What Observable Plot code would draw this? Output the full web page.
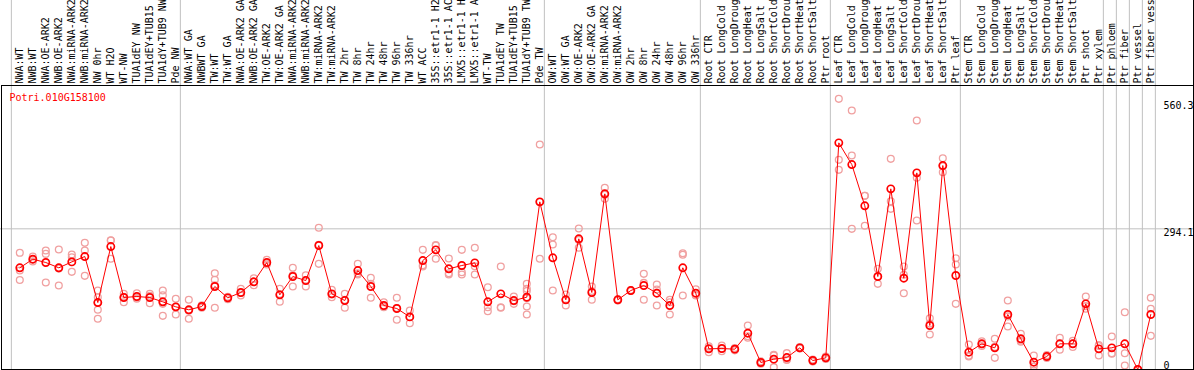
<!DOCTYPE html>
<html><head><meta charset="utf-8">
<script src="https://cdn.jsdelivr.net/npm/d3@7"></script>
<script src="https://cdn.jsdelivr.net/npm/@observablehq/plot@0.6"></script>
<style>
body{margin:0;background:#fff}
svg{display:block;box-shadow:inset -1px 0 0 #000}
</style>
</head><body><div id="chart"></div>
<script>
const geneId = "Potri.010G158100";
const categories = [
  "NWA:WT","NWB:WT","NWA:OE-ARK2","NWB:OE-ARK2","NWA:miRNA-ARK2","NWB:miRNA-ARK2","NW 0hr","WT H2O","WT-NW","TUA1dEY NW","TUA1dEY+TUB15","TUA1dY+TUB9 NW","Pde NW",
  "NWA:WT GA","NWBWT GA","TW:WT","TW:WT GA","NWA:OE-ARK2 GA","NWB:OE-ARK2 GA","TW:OE-ARK2","TW:OE-ARK2 GA","NWA:miRNA-ARK2","NWB:miRNA-ARK2","TW:miRNA-ARK2","TW:miRNA-ARK2",
  "TW 2hr","TW 8hr","TW 24hr","TW 48hr","TW 96hr","TW 336hr","WT ACC","35S::etr1-1 H2","35S::etr1-1 AC","LMX5::etr1-1 H","LMX5::etr1-1 A","WT-TW","TUA1dEY TW","TUA1dEY+TUB15","TUA1dY+TUB9 TW","Pde TW",
  "OW:WT","OW:WT GA","OW:OE-ARK2","OW:OE-ARK2 GA","OW:miRNA-ARK2","OW:miRNA-ARK2","OW 2hr","OW 8hr","OW 24hr","OW 48hr","OW 96hr","OW 336hr",
  "Root CTR","Root LongCold","Root LongDroug","Root LongHeat","Root LongSalt","Root ShortCold","Root ShortDrou","Root ShortHeat","Root ShortSalt","Ptr root",
  "Leaf CTR","Leaf LongCold","Leaf LongDroug","Leaf LongHeat","Leaf LongSalt","Leaf ShortCold","Leaf ShortDrou","Leaf ShortHeat","Leaf ShortSalt","Ptr leaf",
  "Stem CTR","Stem LongCold","Stem LongDroug","Stem LongHeat","Stem LongSalt","Stem ShortCold","Stem ShortDrou","Stem ShortHeat","Stem ShortSalt","Ptr shoot",
  "Ptr xylem","Ptr phloem","Ptr fiber","Ptr vessel","Ptr fiber vess"
];
const means = [
  212.6,230.6,223.7,212.6,225.0,236.2,140.0,257.0,150.5,152.6,150.5,141.5,131.0,
  124.8,131.7,173.5,149.8,161.0,183.3,223.7,156.1,194.4,186.0,259.2,158.2,
  144.2,206.9,173.5,133.8,127.5,110.0,227.8,250.2,210.5,217.4,223.0,141.5,158.2,144.2,151.2,350.5,
  233.5,145.7,273.2,161.0,367.3,145.7,165.1,175.6,159.5,133.8,212.6,159.5,
  43.2,43.9,42.5,75.9,14.6,21.6,25.0,45.3,18.8,24.4,
  473.8,428.5,342.2,194.4,377.7,190.9,411.1,92.0,426.4,196.5,
  36.2,53.7,45.3,115.0,64.2,15.3,27.2,53.7,53.7,137.3,
  43.2,45.3,53.7,0,115.0
];
const replicates = [
  [244,187,207],[236,226,230],[248.7,241.8,181.9],[250.8,175.6,211],[240.4,234.8,204.2],[264.8,248.7,195.8],
  [165,151,140,124.8,106],[269.6,231.4,270],[158.2,140.7,152],[159.5,147.8,150],[158.2,138.6,154],
  [165.1,155.3,137.3,112.2,141],[147.8,115,130],
  [145.7,106,123],[134,129,132],[201.3,187.5,129,176],[152,147,150],[168.6,154.7,160],[190.9,176.2,183],
  [229.3,219.5,222],[168.6,141.5,158],[212.6,173.5,197],[197.1,173.5,187],[296.2,220.9,260.5],[166.6,151.2,157],
  [158.2,129,145.5],[220.9,198.6,201],[191.7,149.9,179],[140.7,130,131],[149.9,103.9,128.7],[123.3,96.8,110],
  [250.2,215.3,218],[259.2,231.4,260],[232,198.6,201],[250.2,198.6,203.4],[254.4,198.6,216],
  [172,130.2,121.9],[215.3,130.2,129],[152.6,137.3,142.7],[179.1,168.6,164,131.7,115,149],[470.3,231.4,350],
  [276.6,261.3,165.1],[156.8,133.8,146.5],[294.7,254.4,270.5],[173.5,145.7,164],[379.8,356.8,365.3],[147,144.5,145.7],
  [166,164,165.3],[200,145.7,181],[177.7,133.8,167],[145.7,115,140.7],[243.1,154.7,240],[167.9,154.7,156],
  [45,36.2,48.4],[50.2,38,43.5],[45,40,42.5],[92,66.3,69.4],[17,12,14.8],[29.3,4.9,30.6],[34.2,20,20.8],
  [47,44,45],[21,16.5,19],[27,22,24.2],
  [565.8,438.3,417.4],[541.4,447.3,294.1],[363.1,300.4,363],[210.5,179.1,194],[440.4,351.8,335.9],
  [215.3,198,159.5],[520.5,311.5,401],[107.3,96,73.2],[441.7,412.4,425],[232.7,219.5,137.3],
  [52.3,27.2,29],[59.2,49,53],[64.2,24.4,47.3],[144.2,89.9,111],[74.6,60,58],[29.3,6.3,10.3],
  [30,24,27.6],[66.3,41.2,53.6],[60,47,54],[152.6,126.9,132.4],
  [49,29.3,51.3],[69,32.8,34.1],[119.8,34.1,8.4],[0,0,0],[149.9,126.9,70.4]
];
const groupStarts = [0,13,41,53,63,73,84,85,86,87,88];
const yTicks = [0, 294.1, 560.3];
const yGrid = [294.1];

const repRows = replicates.flatMap((vals, i) => vals.map(v => ({i, v})));
const meanRows = means.map((v, i) => ({i, v, name: categories[i]}));
const n = categories.length;

const chart = Plot.plot({
  width: 1194, height: 370,
  marginTop: 85, marginBottom: 1, marginLeft: 1, marginRight: 1,
  x: {type: "linear", domain: [0, n - 1], range: [19.3, 19.3 + 13 * (n - 1)], axis: null},
  y: {domain: [0, 560.3], range: [369, 101], axis: null},
  style: {fontFamily: "'DejaVu Sans Mono', monospace", fontSize: "10px", background: "#fff", overflow: "hidden"},
  marks: [
    Plot.ruleX(groupStarts, {x: d => d - 0.65, stroke: "#c0c0c0", insetTop: -85}),
    Plot.ruleY(yGrid, {stroke: "#c0c0c0", insetLeft: -1, insetRight: -1}),
    Plot.text(categories, {x: (d, i) => i, text: d => d, frameAnchor: "top", rotate: -90,
      textAnchor: "start", lineAnchor: "middle", dy: -2, fill: "#000"}),
    Plot.dot(repRows, {x: "i", y: "v", r: 3.4, stroke: "#f0a0a0", strokeWidth: 1.3, fill: "none"}),
    Plot.line(meanRows, {x: "i", y: "v", stroke: "#ff0000", strokeWidth: 1}),
    Plot.dot(meanRows, {x: "i", y: "v", r: 3.6, stroke: "#ff0000", strokeWidth: 1.7, fill: "none"}),
    Plot.text(yTicks.filter(d => d > 0), {y: d => d, text: d => String(d), frameAnchor: "right",
      textAnchor: "start", lineAnchor: "top", dx: -30, fill: "#000"}),
    Plot.text(yTicks.filter(d => d === 0), {y: d => d, text: d => String(d), frameAnchor: "right",
      textAnchor: "start", lineAnchor: "bottom", dx: -30, dy: -1, fill: "#000"}),
    Plot.text([geneId], {frameAnchor: "top-left", text: d => d, dx: 8, dy: 12,
      textAnchor: "start", lineAnchor: "middle", fill: "#ff0000"}),
    Plot.frame({stroke: "#000"})
  ]
});
document.getElementById("chart").appendChild(chart);
</script>
</body></html>
